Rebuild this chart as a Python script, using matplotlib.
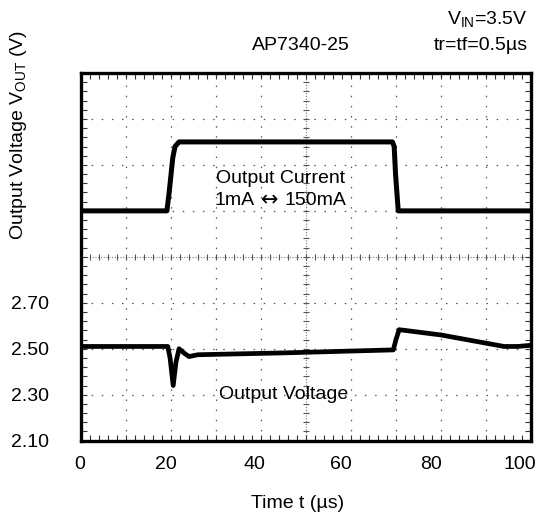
import numpy as np
import matplotlib
matplotlib.use("Agg")
import matplotlib.pyplot as plt
from matplotlib.transforms import ScaledTranslation

plt.rcParams['font.family'] = ['Liberation Sans', 'DejaVu Sans']
plt.rcParams['mathtext.fontset'] = 'custom'
plt.rcParams['mathtext.rm'] = 'Liberation Sans'
plt.rcParams['mathtext.it'] = 'Liberation Sans'

# ---- data ----
current_t = [0, 19.1, 19.6, 20.4, 20.9, 21.8, 69.2, 69.6, 69.9, 70.5, 100]
current_v = [3.10, 3.10, 3.18, 3.33, 3.38, 3.40, 3.40, 3.38, 3.26, 3.10, 3.10]

voltage_t = [0, 19.3, 19.8, 20.5, 21.1, 21.8, 23.0, 24.0, 26.0, 45.0, 69.4, 70.0, 70.7, 80.0, 94.0, 97.0, 100]
voltage_v = [2.51, 2.51, 2.46, 2.34, 2.44, 2.50, 2.48, 2.466, 2.474, 2.482, 2.495, 2.54, 2.583, 2.56, 2.51, 2.51, 2.515]

x_ticks = [0, 20, 40, 60, 80, 100]
y_ticks = [2.10, 2.30, 2.50, 2.70]
y_tick_labels = ["2.10", "2.30", "2.50", "2.70"]

XMIN, XMAX, YMIN, YMAX = 0, 100, 2.10, 3.70
XDIV, YDIV = 10, 0.2
FS = 14

fig = plt.figure(figsize=(5.36, 5.15), dpi=100)
ax = fig.add_axes([0.151, 0.1443, 0.8397, 0.714])
ax.set_xlim(XMIN, XMAX)
ax.set_ylim(YMIN, YMAX)

# dotted graticule
xc = (XMIN + XMAX) / 2
yc = YMIN + 4 * YDIV
for gx in np.arange(XMIN + XDIV, XMAX, XDIV):
    if abs(gx - xc) > 1e-6:
        ax.axvline(gx, color='#555555', lw=0.9, ls=(0, (1.2, 6.9)), zorder=1)
for gy in np.arange(YMIN + YDIV, YMAX - 1e-6, YDIV):
    if abs(gy - yc) > 1e-6:
        ax.axhline(gy, color='#555555', lw=0.9, ls=(0, (1.2, 6.9)), zorder=1)

# center lines with small ticks
ax.axvline(xc, color='#777777', lw=0.8, ls=(0, (1, 1.5)), zorder=1)
ax.axhline(yc, color='#777777', lw=0.8, ls=(0, (1, 1.5)), zorder=1)
mx = np.arange(XMIN, XMAX + 1e-6, XDIV / 5)
my = np.arange(YMIN, YMAX + 1e-6, YDIV / 5)
ax.plot(mx, np.full_like(mx, yc), ls='none', marker='|', ms=5, mew=0.8, color='#555555', zorder=1)
ax.plot(np.full_like(my, xc), my, ls='none', marker='_', ms=5, mew=0.8, color='#555555', zorder=1)

# traces
ax.plot(current_t, current_v, color='black', lw=3.6, solid_joinstyle='round', zorder=3)
ax.plot(voltage_t, voltage_v, color='black', lw=3.4, solid_joinstyle='round', zorder=3)
ax.plot(voltage_t[1:6], voltage_v[1:6], color='black', lw=1.6, zorder=3)

# ticks
ax.set_xticks(x_ticks)
ax.set_xticklabels([str(v) for v in x_ticks])
ax.set_yticks(y_ticks)
ax.set_yticklabels(y_tick_labels)
ax.set_xticks(mx, minor=True)
ax.set_yticks(my, minor=True)
ax.tick_params(which='both', direction='in', top=True, right=True, length=4, width=0.8, color='#333333')
ax.tick_params(axis='x', which='major', pad=11, labelsize=FS)
ax.tick_params(axis='y', which='major', pad=23, labelsize=FS)
# the reference's x labels drift slightly left of their grid lines
x_label_shift_px = [-1, -5, -7, -10, -10, -11]
for lab, dx in zip(ax.get_xticklabels(), x_label_shift_px):
    lab.set_transform(lab.get_transform() + ScaledTranslation(dx / 100, 0, fig.dpi_scale_trans))
for s in ax.spines.values():
    s.set_linewidth(2.4)

# annotations
ax.text(44.3, 3.24, "Output Current", ha='center', va='center', fontsize=FS)
ax.text(38.6, 3.145, "1mA", ha='right', va='center', fontsize=FS)
ax.text(41.9, 3.145, "\u2194", ha='center', va='center', fontsize=FS + 1, family='DejaVu Sans')
ax.text(45.3, 3.145, "150mA", ha='left', va='center', fontsize=FS)
ax.text(45.0, 2.30, "Output Voltage", ha='center', va='center', fontsize=FS)

fig.text(301 / 536, 1 - 46 / 515, "AP7340-25", ha='center', va='center', fontsize=FS)
fig.text(528 / 536, 1 - 19 / 515, "V$_{\\mathrm{IN}}$=3.5V", ha='right', va='center', fontsize=FS)
fig.text(528 / 536, 1 - 45 / 515, "tr=tf=0.5\u00b5s", ha='right', va='center', fontsize=FS)
fig.text(19 / 536, 1 - 135 / 515, "Output Voltage V$_{\\mathrm{OUT}}$ (V)", rotation=90,
         ha='center', va='center', fontsize=FS)
fig.text(297.5 / 536, 1 - 503 / 515, "Time t (\u00b5s)", ha='center', va='center', fontsize=FS)

fig.savefig("out.png", dpi=100)
